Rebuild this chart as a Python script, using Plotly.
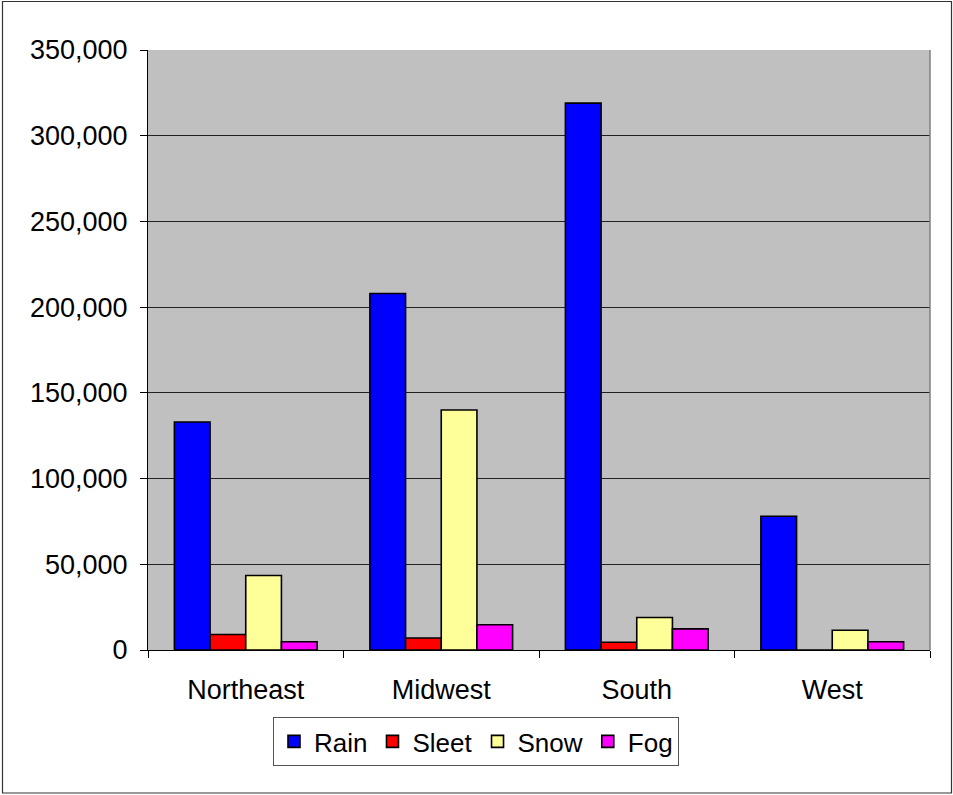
import plotly.graph_objects as go

# Weather-related counts by US region
regions = ["Northeast", "Midwest", "South", "West"]
series_names = ["Rain", "Sleet", "Snow", "Fog"]
rain = [133000, 208000, 319000, 78000]
sleet = [9000, 7000, 4500, 0]
snow = [43500, 140000, 19000, 11500]
fog = [4800, 14700, 12300, 4800]
colors = ["#0000FF", "#FF0000", "#FFFF99", "#FF00FF"]
y_ticks = [0, 50000, 100000, 150000, 200000, 250000, 300000, 350000]

W, H = 953, 795
ML, MR, MT, MB = 148, 23, 50, 145
PW, PH = W - ML - MR, H - MT - MB

def px_x(x):
    return (x - ML) / PW

def px_y(y):
    return (H - MB - y) / PH

font = dict(family="Liberation Sans, Arial, sans-serif", size=27, color="black")
legend_font = dict(family="Liberation Sans, Arial, sans-serif", size=26, color="black")

fig = go.Figure()
for name, vals, col in zip(series_names, [rain, sleet, snow, fog], colors):
    fig.add_trace(go.Bar(
        x=regions, y=vals, name=name,
        marker=dict(color=col, line=dict(color="black", width=1.6)),
    ))

fig.update_layout(
    width=W, height=H,
    margin=dict(l=ML, r=MR, t=MT, b=MB),
    paper_bgcolor="white",
    plot_bgcolor="#C0C0C0",
    font=font,
    barmode="group",
    bargap=0.27,
    bargroupgap=0,
    showlegend=True,
    legend=dict(
        orientation="h",
        x=px_x(273), xanchor="left",
        y=px_y(717), yanchor="top",
        bgcolor="white",
        bordercolor="#555555",
        borderwidth=1,
        font=legend_font,
        traceorder="normal",
    ),
)

fig.update_xaxes(
    type="category",
    showline=True, linecolor="black", linewidth=1,
    ticks="outside", tickson="boundaries", ticklen=7, tickcolor="black",
    ticklabelstandoff=16,
    showgrid=False,
    tickfont=font,
)
fig.update_yaxes(
    range=[0, 350000],
    tickvals=y_ticks,
    tickformat=",d",
    showline=True, linecolor="black", linewidth=1,
    ticks="outside", ticklen=7, tickcolor="black",
    ticklabelstandoff=7,
    showgrid=True, gridcolor="#222222", gridwidth=1,
    zeroline=False,
    tickfont=font,
)

# right edge of the plot area
fig.add_shape(type="line", xref="paper", yref="paper",
              x0=1, x1=1, y0=0, y1=1,
              line=dict(color="#808080", width=1.5))

# outer chart border
fig.add_shape(type="rect", xref="paper", yref="paper",
              x0=px_x(2.5), x1=px_x(951.5), y0=px_y(793), y1=px_y(1.5),
              line=dict(color="#333333", width=1.2), fillcolor="rgba(0,0,0,0)")

fig.write_html("out.html")
